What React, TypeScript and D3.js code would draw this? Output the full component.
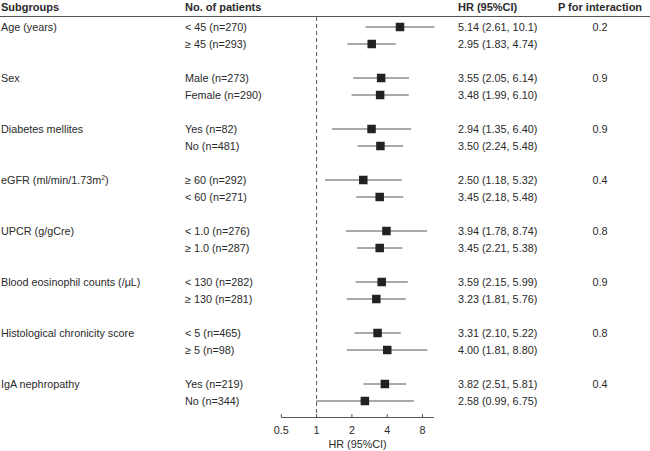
import React from "react";
import * as d3 from "d3";

const groups = [
  "Age (years)",
  "Sex",
  "Diabetes mellites",
  "eGFR (ml/min/1.73m²)",
  "UPCR (g/gCre)",
  "Blood eosinophil counts (/μL)",
  "Histological chronicity score",
  "IgA nephropathy",
];
const subLabels = [
  ["< 45 (n=270)", "≥ 45 (n=293)"],
  ["Male (n=273)", "Female (n=290)"],
  ["Yes (n=82)", "No (n=481)"],
  ["≥ 60 (n=292)", "< 60 (n=271)"],
  ["< 1.0 (n=276)", "≥ 1.0 (n=287)"],
  ["< 130 (n=282)", "≥ 130 (n=281)"],
  ["< 5 (n=465)", "≥ 5 (n=98)"],
  ["Yes (n=219)", "No (n=344)"],
];
const hr = [[5.14, 2.95], [3.55, 3.48], [2.94, 3.5], [2.5, 3.45], [3.94, 3.45], [3.59, 3.23], [3.31, 4.0], [3.82, 2.58]];
const lo = [[2.61, 1.83], [2.05, 1.99], [1.35, 2.24], [1.18, 2.18], [1.78, 2.21], [2.15, 1.81], [2.1, 1.81], [2.51, 0.99]];
const hi = [[10.1, 4.74], [6.14, 6.1], [6.4, 5.48], [5.32, 5.48], [8.74, 5.38], [5.99, 5.76], [5.22, 8.8], [5.81, 6.75]];
const hrText = [
  ["5.14 (2.61, 10.1)", "2.95 (1.83, 4.74)"],
  ["3.55 (2.05, 6.14)", "3.48 (1.99, 6.10)"],
  ["2.94 (1.35, 6.40)", "3.50 (2.24, 5.48)"],
  ["2.50 (1.18, 5.32)", "3.45 (2.18, 5.48)"],
  ["3.94 (1.78, 8.74)", "3.45 (2.21, 5.38)"],
  ["3.59 (2.15, 5.99)", "3.23 (1.81, 5.76)"],
  ["3.31 (2.10, 5.22)", "4.00 (1.81, 8.80)"],
  ["3.82 (2.51, 5.81)", "2.58 (0.99, 6.75)"],
];
const pInteraction = ["0.2", "0.9", "0.9", "0.4", "0.8", "0.9", "0.8", "0.4"];
const ticks = [0.5, 1, 2, 4, 8];
const tickLabels = ["0.5", "1", "2", "4", "8"];

const W = 650;
const H = 451;
const FONT = "'Liberation Sans', Arial, Helvetica, sans-serif";
const TEXT = "#2a2a2a";
const FS = 10.8;

export default function App() {
  const x = d3.scaleLog().base(2).domain([0.5, 10]).range([281.3, 433.9]);
  const rowY = (g: number, i: number) => 27 + 51 * g + 17 * i;
  const axisY = 417.5;
  const sq = 8.5;
  return (
    <svg
      width={W}
      height={H}
      style={{ position: "absolute", left: 0, top: 0, background: "#fff" }}
      fontFamily={FONT}
    >
      {/* headers */}
      <g fontWeight="bold" fontSize={11} fill={TEXT}>
        <text x={1} y={7.5} dy="0.35em">Subgroups</text>
        <text x={185} y={7.5} dy="0.35em">No. of patients</text>
        <text x={458} y={7.5} dy="0.35em">HR (95%CI)</text>
        <text x={600} y={7.5} dy="0.35em" textAnchor="middle">P for interaction</text>
      </g>
      <line x1={0} x2={W} y1={16.5} y2={16.5} stroke="#555" strokeWidth={1} />

      {/* reference line */}
      <line
        x1={x(1)}
        x2={x(1)}
        y1={17}
        y2={axisY}
        stroke="#555"
        strokeWidth={1}
        strokeDasharray="4,3"
      />

      {groups.map((g, gi) => (
        <g key={gi} fontSize={FS} fill={TEXT}>
          <text x={1} y={rowY(gi, 0)} dy="0.35em">
            {gi === 3 ? (
              <>
                eGFR (ml/min/1.73m<tspan fontSize={7} dy="-4">2</tspan>
                <tspan dy="4">)</tspan>
              </>
            ) : (
              g
            )}
          </text>
          <text x={600} y={rowY(gi, 0)} dy="0.35em" textAnchor="middle">
            {pInteraction[gi]}
          </text>
          {[0, 1].map((i) => {
            const y = rowY(gi, i);
            return (
              <g key={i}>
                <text x={185} y={y} dy="0.35em">{subLabels[gi][i]}</text>
                <text x={458} y={y} dy="0.35em">{hrText[gi][i]}</text>
                <line
                  x1={x(lo[gi][i])}
                  x2={x(hi[gi][i])}
                  y1={y}
                  y2={y}
                  stroke="#555"
                  strokeWidth={1}
                />
                <rect
                  x={x(hr[gi][i]) - sq / 2}
                  y={y - sq / 2}
                  width={sq}
                  height={sq}
                  fill="#222"
                />
              </g>
            );
          })}
        </g>
      ))}

      {/* axis */}
      <line x1={x(0.5)} x2={x(10)} y1={axisY} y2={axisY} stroke="#555" strokeWidth={1} />
      {ticks.map((t, i) => (
        <g key={t}>
          <line x1={x(t)} x2={x(t)} y1={axisY - 3.5} y2={axisY} stroke="#555" strokeWidth={1} />
          <text
            x={x(t)}
            y={axisY + 12.5}
            dy="0.35em"
            textAnchor="middle"
            fontSize={FS}
            fill={TEXT}
          >
            {tickLabels[i]}
          </text>
        </g>
      ))}
      <text
        x={(x(0.5) + x(10)) / 2}
        y={444}
        dy="0.35em"
        textAnchor="middle"
        fontSize={FS}
        fill={TEXT}
      >
        HR (95%CI)
      </text>
    </svg>
  );
}
